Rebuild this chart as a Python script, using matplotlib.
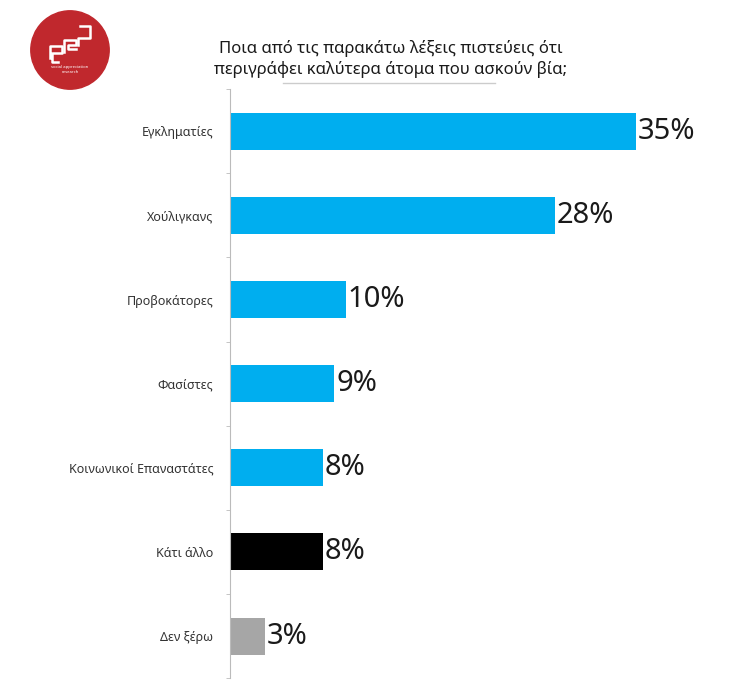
import matplotlib.pyplot as plt
import matplotlib.patches as mpatches
import numpy as np

# data
categories = ['Εγκληματίες', 'Χούλιγκανς', 'Προβοκάτορες', 'Φασίστες',
              'Κοινωνικοί Επαναστάτες', 'Κάτι άλλο', 'Δεν ξέρω']
values = [35, 28, 10, 9, 8, 8, 3]
colors = ['#00AEEF'] * 5 + ['#000000', '#A6A6A6']

plt.rcParams['font.family'] = ['Noto Sans', 'DejaVu Sans']

fig = plt.figure(figsize=(7.34, 6.97), dpi=100)
ax = fig.add_axes([0.3134, 0.027, 0.711, 0.845])

y = np.arange(len(categories))
ax.barh(y, values, height=0.44, color=colors)
ax.set_ylim(len(categories) - 0.5, -0.5)
ax.set_xlim(0, 45)

for yi, v in zip(y, values):
    ax.text(v + 0.15, yi, f'{v}%', va='center', ha='left', fontsize=21, color='#1a1a1a')

ax.set_yticks(y)
ax.set_yticklabels(categories, fontsize=9, color='#333333')
ax.tick_params(axis='y', which='major', length=0, pad=12)
ax.set_yticks(np.arange(-0.5, len(categories), 1), minor=True)
ax.tick_params(axis='y', which='minor', length=3, color='#bbbbbb')
ax.set_xticks([])
for s in ['top', 'right', 'bottom']:
    ax.spines[s].set_visible(False)
ax.spines['left'].set_color('#bbbbbb')

# title
fig.text(0.532, 0.931, 'Ποια από τις παρακάτω λέξεις πιστεύεις ότι',
         ha='center', va='center', fontsize=12, color='#1a1a1a')
fig.text(0.532, 0.901, 'περιγράφει καλύτερα άτομα που ασκούν βία;',
         ha='center', va='center', fontsize=12, color='#1a1a1a')
fig.add_artist(plt.Line2D([283 / 734, 495 / 734], [1 - 83 / 697, 1 - 83 / 697],
                          color='#cccccc', lw=1))

# logo
logo = fig.add_axes([30 / 734, 1 - 92 / 697, 80 / 734, 84 / 697])
logo.set_xlim(-1, 1)
logo.set_ylim(-1, 1)
logo.set_aspect('equal')
logo.axis('off')
logo.add_patch(mpatches.Circle((0, 0), 0.98, color='#C0282D'))
# rough "ged" mark
logo.plot([-0.5, -0.5, -0.2, -0.2, -0.45, -0.45, -0.3],
          [-0.2, 0.1, 0.1, -0.08, -0.08, -0.3, -0.3], color='white', lw=1.8)
logo.plot([-0.15, -0.15, 0.15, 0.15, -0.05, -0.05, 0.15],
          [-0.05, 0.25, 0.25, 0.12, 0.12, 0.02, 0.02], color='white', lw=1.8)
logo.plot([0.2, 0.2, 0.5, 0.5, 0.25],
          [0.12, 0.3, 0.3, 0.6, 0.6], color='white', lw=1.8)
logo.text(0, -0.42, 'social appreciation', ha='center', va='center', fontsize=3, color='white')
logo.text(0, -0.55, 'research', ha='center', va='center', fontsize=3, color='white')

fig.savefig('out.png', dpi=100)
